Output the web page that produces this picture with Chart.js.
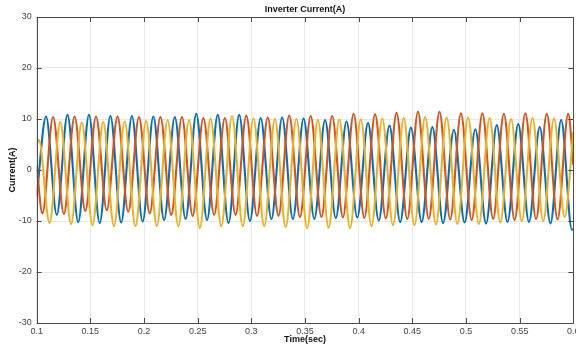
<!DOCTYPE html>
<html>
<head>
<meta charset="utf-8">
<script src="https://cdn.jsdelivr.net/npm/chart.js@4.4.1/dist/chart.umd.min.js"></script>
<style>
  html, body { margin: 0; padding: 0; background: #fff; }
</style>
</head>
<body>
<canvas id="currentChart" width="576" height="345"></canvas>
<script>
/* Inverter current, three phases: peaks and troughs */
var xTickLabels = ['0.1', '0.15', '0.2', '0.25', '0.3', '0.35', '0.4', '0.45', '0.5', '0.55', '0.6'];
var yTickLabels = ['-30', '-20', '-10', '0', '10', '20', '30'];

var blueT = [0.1, 0.1087, 0.1187, 0.1287, 0.1387, 0.1487, 0.1587, 0.1687, 0.1787, 0.1887, 0.1987,
  0.2087, 0.2187, 0.2287, 0.2387, 0.2487, 0.2587, 0.2687, 0.2787, 0.2887, 0.2987,
  0.3087, 0.3187, 0.3287, 0.3387, 0.3487, 0.3587, 0.3687, 0.3787, 0.3887, 0.3987,
  0.4087, 0.4187, 0.4287, 0.4387, 0.4487, 0.4587, 0.4687, 0.4787, 0.4887, 0.4987,
  0.5087, 0.5187, 0.5287, 0.5387, 0.5487, 0.5587, 0.5687, 0.5787, 0.5887, 0.5987, 0.6];
var blueI = [-5.2, 10.5, -8.8, 10.8, -10.2, 10.8, -10.4, 10.6, -10.3, 10.6, -10.1,
  10.5, -9.8, 10.4, -9.6, 11.0, -9.8, 10.8, -10.4, 10.8, -10.0,
  10.2, -9.6, 10.3, -9.6, 10.1, -9.6, 9.8, -9.4, 9.5, -9.3,
  9.2, -9.9, 8.7, -10.2, 8.3, -10.2, 8.4, -10.4, 7.9, -10.3,
  8.0, -10.5, 8.8, -10.2, 9.0, -10.2, 8.4, -10.5, 9.8, -11.7, -11.6];

var redT = [0.1, 0.1053, 0.1153, 0.1253, 0.1353, 0.1453, 0.1553, 0.1653, 0.1753, 0.1853, 0.1953,
  0.2053, 0.2153, 0.2253, 0.2353, 0.2453, 0.2553, 0.2653, 0.2753, 0.2853, 0.2953,
  0.3053, 0.3153, 0.3253, 0.3353, 0.3453, 0.3553, 0.3653, 0.3753, 0.3853, 0.3953,
  0.4053, 0.4153, 0.4253, 0.4353, 0.4453, 0.4553, 0.4653, 0.4753, 0.4853, 0.4953,
  0.5053, 0.5153, 0.5253, 0.5353, 0.5453, 0.5553, 0.5653, 0.5753, 0.5853, 0.5953, 0.6];
var redI = [0.8, -8.5, 10.4, -8.6, 10.5, -8.0, 10.5, -7.9, 10.5, -8.2, 10.4,
  -8.5, 10.4, -8.8, 10.4, -9.0, 10.2, -8.8, 10.2, -8.8, 10.7,
  -9.0, 10.3, -9.0, 10.7, -9.2, 10.6, -9.2, 10.6, -9.3, 11.0,
  -9.4, 10.9, -9.5, 11.2, -9.6, 11.4, -9.6, 11.4, -9.7, 11.1,
  -9.8, 11.1, -9.6, 11.0, -9.8, 11.1, -9.6, 11.0, -9.7, 11.0, 1.0];

var yellowT = [0.1, 0.102, 0.112, 0.122, 0.132, 0.142, 0.152, 0.162, 0.172, 0.182, 0.192,
  0.202, 0.212, 0.222, 0.232, 0.242, 0.252, 0.262, 0.272, 0.282, 0.292,
  0.302, 0.312, 0.322, 0.332, 0.342, 0.352, 0.362, 0.372, 0.382, 0.392,
  0.402, 0.412, 0.422, 0.432, 0.442, 0.452, 0.462, 0.472, 0.482, 0.492,
  0.502, 0.512, 0.522, 0.532, 0.542, 0.552, 0.562, 0.572, 0.582, 0.592, 0.6];
var yellowI = [4.9, 5.9, -10.4, 9.4, -10.6, 9.3, -10.8, 9.4, -11.0, 9.5, -11.0,
  9.6, -11.0, 9.8, -11.0, 9.8, -11.4, 10.1, -11.0, 10.6, -11.0,
  10.1, -11.0, 10.0, -11.2, 10.0, -11.4, 9.8, -11.3, 9.9, -11.4,
  9.9, -11.0, 10.1, -10.8, 10.2, -10.8, 10.4, -10.7, 10.3, -10.6,
  10.3, -10.6, 10.2, -10.3, 10.0, -10.0, 10.2, -10.0, 10.1, -9.2, 7.5];

function pts(ts, vs) {
  return ts.map(function (t, i) { return { x: t, y: vs[i] }; });
}

var axisColor = '#4a4a4a';
var tickFont = { family: 'Liberation Sans, Arial, sans-serif', size: 9 };
var boldFont = { family: 'Liberation Sans, Arial, sans-serif', size: 9, weight: 'bold' };

/* matlab style box with inward ticks */
var boxTicks = {
  id: 'boxTicks',
  afterDraw: function (chart) {
    var ctx = chart.ctx, a = chart.chartArea, x = chart.scales.x, y = chart.scales.y;
    ctx.save();
    ctx.strokeStyle = axisColor;
    ctx.lineWidth = 1;
    ctx.beginPath();
    x.ticks.forEach(function (t) {
      var px = Math.round(x.getPixelForValue(t.value)) + 0.5;
      ctx.moveTo(px, a.bottom); ctx.lineTo(px, a.bottom - 5);
      ctx.moveTo(px, a.top); ctx.lineTo(px, a.top + 5);
    });
    y.ticks.forEach(function (t) {
      var py = Math.round(y.getPixelForValue(t.value)) + 0.5;
      ctx.moveTo(a.left, py); ctx.lineTo(a.left + 5, py);
      ctx.moveTo(a.right, py); ctx.lineTo(a.right - 5, py);
    });
    ctx.rect(Math.round(a.left) + 0.5, Math.round(a.top) + 0.5,
      Math.round(a.right) - Math.round(a.left), Math.round(a.bottom) - Math.round(a.top));
    ctx.stroke();
    ctx.restore();
  }
};

var lineSet = function (label, data, color, order) {
  return {
    label: label,
    data: data,
    borderColor: color,
    backgroundColor: color,
    borderWidth: 2.1,
    pointRadius: 0,
    cubicInterpolationMode: 'monotone',
    fill: false,
    order: order
  };
};

var currentChart = new Chart(document.getElementById('currentChart'), {
  type: 'line',
  data: {
    datasets: [
      lineSet('Ia', pts(blueT, blueI), '#0072BD', 3),
      lineSet('Ib', pts(redT, redI), '#D95319', 2),
      lineSet('Ic', pts(yellowT, yellowI), '#EDB120', 1)
    ]
  },
  plugins: [boxTicks],
  options: {
    responsive: false,
    animation: false,
    layout: { padding: { top: 0, right: 2.7, left: 0, bottom: 0 } },
    scales: {
      x: {
        type: 'linear',
        min: 0.1,
        max: 0.6,
        ticks: {
          stepSize: 0.05,
          autoSkip: false,
          maxRotation: 0,
          padding: 3,
          color: '#444',
          font: tickFont,
          callback: function (v, i) { return xTickLabels[i]; }
        },
        grid: { color: '#e8e8e8', drawTicks: false },
        border: { display: false },
        title: { display: true, text: 'Time(sec)', color: '#111', font: boldFont, padding: { top: 0, bottom: 0 } },
        afterFit: function (s) { s.height = 22; s.paddingLeft = 0; s.paddingRight = 0; }
      },
      y: {
        min: -30,
        max: 30,
        ticks: {
          stepSize: 10,
          padding: 5,
          color: '#444',
          font: tickFont,
          callback: function (v, i) { return yTickLabels[i]; }
        },
        grid: { color: '#e8e8e8', drawTicks: false },
        border: { display: false },
        title: { display: true, text: 'Current(A)', color: '#111', font: boldFont, padding: { top: 7, bottom: 0 } },
        afterFit: function (s) { s.width = 36.7; s.paddingTop = 0; s.paddingBottom = 0; }
      }
    },
    plugins: {
      legend: { display: false },
      tooltip: { enabled: false },
      title: {
        display: true,
        text: 'Inverter Current(A)',
        color: '#111',
        fullSize: false,
        font: boldFont,
        padding: { top: 4.5, bottom: 1.7 }
      }
    }
  }
});
</script>
</body>
</html>
